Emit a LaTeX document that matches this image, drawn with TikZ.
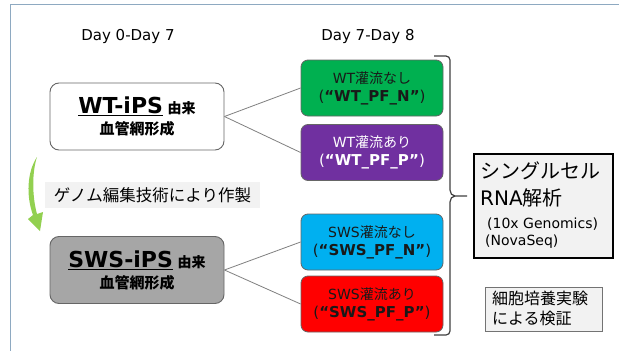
\documentclass[tikz,border=0pt]{standalone}
\usepackage{fontspec}
\setmainfont{DejaVu Sans}
\newfontfamily\jp{Noto Sans CJK JP}
\newcommand{\J}[1]{{\jp #1}}
\newcommand{\Lg}{\fontsize{15}{18}\selectfont}
\definecolor{cgreen}{HTML}{00B050}
\definecolor{cpurple}{HTML}{7030A0}
\definecolor{ccyan}{HTML}{00B0F0}
\definecolor{cred}{HTML}{FF0000}
\definecolor{swsgray}{HTML}{A6A6A6}
\definecolor{lightbg}{HTML}{F2F2F2}
\definecolor{arrowgreen}{HTML}{92D050}
\definecolor{framecol}{HTML}{8EA9C1}
\definecolor{boxedge}{HTML}{666666}
\begin{document}
\begin{tikzpicture}[x=1pt,y=-1pt,
  colbox/.style={rounded corners=7pt, minimum width=142pt, minimum height=56pt,
    draw=boxedge, line width=0.8pt, align=center, inner sep=0pt,
    font=\fontsize{14}{18}\selectfont},
  srcbox/.style={rounded corners=9pt, minimum width=174pt, minimum height=67pt,
    draw=boxedge, line width=0.9pt, align=center, inner sep=0pt,
    font=\fontsize{15}{21}\selectfont},
  datelbl/.style={font=\fontsize{15}{18}\selectfont, inner sep=0pt},
  conn/.style={draw=black!50, line width=0.8pt},
  jptxt/.style={anchor=base west, inner sep=0pt}]
\useasboundingbox (0,0) rectangle (619,351);
\clip (0,0) rectangle (619,351);
\fill[white] (0,0) rectangle (619,351);
\draw[framecol, line width=1pt] (10,360) -- (10,4.5) -- (630,4.5);

% date labels
\node[datelbl] (d1) at (128,36) {Day 0-Day 7};
\node[datelbl] (d2) at (368,36) {Day 7-Day 8};

% source boxes
\node[srcbox, fill=white] (wt) at (137,116.5)
  {\textbf{\fontsize{22}{22}\selectfont\underline{WT-iPS}} {\jp\bfseries\fontsize{14}{14}\selectfont 由来}\\
   {\jp\bfseries 血管網形成}};
\node[srcbox, fill=swsgray] (sws) at (137,270)
  {\textbf{\fontsize{22}{22}\selectfont\underline{SWS-iPS}} {\jp\bfseries\fontsize{14}{14}\selectfont 由来}\\
   {\jp\bfseries 血管網形成}};

% condition boxes
\node[colbox, fill=cgreen, text=black!90] (gn) at (372,88)
  {WT\J{灌流なし}\\{\Lg(\textbf{“WT\_PF\_N”})}};
\node[colbox, fill=cpurple, text=white] (gp) at (372,152.5)
  {WT\J{灌流あり}\\{\Lg(\textbf{“WT\_PF\_P”})}};
\node[colbox, fill=ccyan, text=black!90] (sn) at (372,242)
  {SWS\J{灌流なし}\\{\Lg(\textbf{“SWS\_PF\_N”})}};
\node[colbox, fill=cred, text=black!90] (sp) at (372,304)
  {SWS\J{灌流あり}\\{\Lg(\textbf{“SWS\_PF\_P”})}};

% connectors
\draw[conn] (wt.east) -- (gn.west);
\draw[conn] (wt.east) -- (gp.west);
\draw[conn] (sws.east) -- (sn.west);
\draw[conn] (sws.east) -- (sp.west);

% genome editing label
\node[fill=lightbg, minimum width=215pt, minimum height=26pt, inner sep=0pt,
  font=\jp\fontsize{16.5}{20}\selectfont] (gl) at (152.5,195) {ゲノム編集技術により作製};

% green curved arrow
\fill[arrowgreen] (37,157) .. controls (27,172) and (26,196) .. (33,215)
  -- (28,219) -- (40,231) -- (43,212) -- (37,214)
  .. controls (32,196) and (32,172) .. (37,157) -- cycle;

% brace
\coordinate (btip) at (467,196);
\draw[black!75, line width=1.2pt] (434,56) -- (446,56) to[out=0,in=90] (450,60)
  -- (450,190) to[out=-90,in=180] (455,196) -- (btip);
\draw[black!75, line width=1.2pt] (455,196) to[out=180,in=90] (450,202)
  -- (450,331) to[out=-90,in=0] (446,335) -- (434,335);

% analysis box
\node[draw=black, line width=1.6pt, fill=lightbg, minimum width=139pt, minimum height=104pt, inner sep=0pt] (rna) at (543.5,206) {};
\node[jptxt, font=\jp\fontsize{20}{24}\selectfont] (r1) at (480,178) {シングルセル};
\node[jptxt, font=\fontsize{20}{24}\selectfont] (r2) at (480,205) {RNA\J{解析}};
\node[jptxt, font=\fontsize{14}{17}\selectfont] (r3) at (487,228) {(10x Genomics)};
\node[jptxt, font=\fontsize{14}{17}\selectfont] (r4) at (485,245) {(NovaSeq)};

% validation box
\node[draw=black!55, line width=0.8pt, fill=lightbg, minimum width=117pt, minimum height=44pt, inner sep=0pt] (val) at (543.5,309) {};
\node[jptxt, font=\jp\fontsize{16}{20}\selectfont] (v1) at (492,304) {細胞培養実験};
\node[jptxt, font=\jp\fontsize{16}{20}\selectfont] (v2) at (492,324) {による検証};
\end{tikzpicture}
\end{document}
